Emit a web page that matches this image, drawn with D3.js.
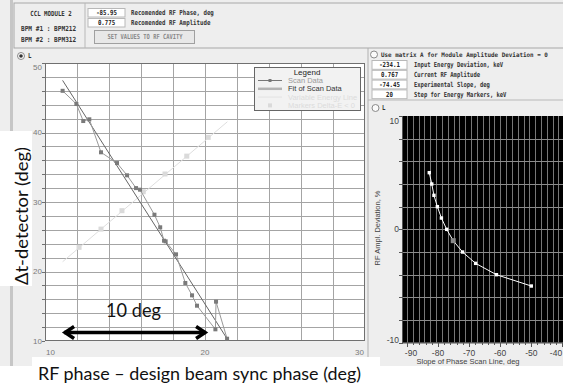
<!DOCTYPE html>
<html>
<head>
<meta charset="utf-8">
<script src="https://cdn.jsdelivr.net/npm/d3@7/dist/d3.min.js"></script>
<style>
body { margin: 0; background: #fff; }
svg { display: block; }
</style>
</head>
<body>
<div id="chart"></div>
<script>
// ---- data ----
// left plot: phase scan (RF phase vs dt at detector)
const scanX = [11.1, 11.96, 12.39, 12.77, 13.5, 14.5, 15.13, 15.69, 15.94, 16.84,
               17.2, 17.44, 17.54, 18.19, 18.77, 19.19, 19.5, 20.65, 20.69, 21.38];
const scanY = [46.0, 44.1, 41.65, 41.9, 37.15, 35.6, 33.84, 32.0, 31.77, 28.17,
               26.36, 24.43, 24.34, 22.47, 18.35, 16.57, 15.08, 11.68, 15.66, 10.33];
const fitX = [11.1, 21.36];
const fitY = [47.5, 10.4];
const energyLineX = [11.1, 21.4];
const energyLineY = [21.4, 41.55];
const markerX = [12.13, 13.5, 14.81, 16.14, 17.5, 18.86, 20.2];
const markerY = [23.48, 26.1, 28.75, 31.48, 34.03, 36.6, 39.3];
const leftXTicks = [10, 20, 30];
const leftYTicks = [10, 20, 30, 40, 50];
const legendItems = ['Scan Data', 'Fit of Scan Data', 'Variable Energy Line', 'Markers Delta-E < 0'];

// right plot: amplitude deviation vs slope
const slopeX = [-82.8, -82.0, -81.3, -80.2, -78.9, -77.2, -75.1, -72.1, -67.9, -61.2, -50.0];
const amplDev = [5, 4, 3, 2, 1, 0, -1, -2, -3, -4, -5];
const currentIdx = 6;
const rightXTicks = [-90, -80, -70, -60, -50, -40];
const rightYTicks = [-10, 0, 10];

// panel fields
const headerRows = ['CCL MODULE 2', 'BPM #1 :  BPM212', 'BPM #2 :  BPM312'];
const recValues = ['-85.95', '0.775'];
const recLabels = ['Recomended RF Phase, deg', 'Recomended RF Amplitude'];
const inputValues = ['-234.1', '0.767', '-74.45', '20'];
const inputLabels = ['Input Energy Deviation, keV', 'Current RF Amplitude',
                     'Experimental Slope, deg', 'Step for Energy Markers, keV'];

const W = 563, H = 389;
const svg = d3.select('#chart').append('svg')
    .attr('width', W).attr('height', H)
    .style('font-family', '"Liberation Sans", Arial, sans-serif');

// small ui text in a squeezed mono font
function uiText(x, y, s, opts) {
    opts = opts || {};
    let cw = opts.cw || 3.45;
    return svg.append('text')
        .attr('x', x).attr('y', y)
        .attr('dy', '0.35em')
        .attr('text-anchor', opts.anchor || 'start')
        .attr('font-family', '"DejaVu Sans Mono", monospace')
        .attr('font-weight', 'bold')
        .attr('font-size', opts.size || 7)
        .attr('fill', opts.fill || '#333')
        .attr('textLength', s.length * cw)
        .attr('lengthAdjust', 'spacingAndGlyphs')
        .text(s);
}

function field(x, y, w, h, s) {
    svg.append('rect').attr('x', x).attr('y', y).attr('width', w).attr('height', h)
        .attr('fill', '#fff').attr('stroke', '#b8b8b8');
    uiText(x + w / 2, y + h / 2, s, {anchor: 'middle', fill: '#222'});
}

function radio(x, y, on) {
    svg.append('circle').attr('cx', x).attr('cy', y).attr('r', 3.5)
        .attr('fill', '#fafafa').attr('stroke', '#8a8a8a');
    if (on) {
        svg.append('circle').attr('cx', x).attr('cy', y).attr('r', 1.8).attr('fill', '#333');
    }
}

// ---- window background ----
svg.append('rect').attr('width', W).attr('height', 366).attr('fill', '#eeeeee');
svg.append('rect').attr('x', 10).attr('y', 0).attr('width', 3).attr('height', 366).attr('fill', '#c6c6c6');

// header
svg.append('rect').attr('x', 14).attr('y', 3).attr('width', 560).attr('height', 45)
    .attr('fill', '#eeeeee').attr('stroke', '#a8a8a8');
svg.append('line').attr('x1', 85).attr('x2', 85).attr('y1', 3).attr('y2', 48).attr('stroke', '#b8b8b8');
uiText(51, 14, headerRows[0], {anchor: 'middle'});
uiText(21, 28.3, headerRows[1]);
uiText(21, 40, headerRows[2]);
recValues.forEach((v, i) => {
    field(88, 8.5 + i * 10, 37, 8.5, v);
    uiText(131, 12.7 + i * 10, recLabels[i]);
});
svg.append('rect').attr('x', 94.5).attr('y', 30.5).attr('width', 100).attr('height', 13)
    .attr('fill', '#e8e8e8').attr('stroke', '#a0a0a0');
uiText(145, 37, 'SET VALUES TO RF CAVITY', {anchor: 'middle', fill: '#888', cw: 3.26});

// panel separators
svg.append('line').attr('x1', 368).attr('x2', 368).attr('y1', 48).attr('y2', 366).attr('stroke', '#b0b0b0');
svg.append('line').attr('x1', 368).attr('x2', W).attr('y1', 100).attr('y2', 100).attr('stroke', '#b8b8b8');

radio(21, 56, true);
uiText(28, 56, 'L');

// ---- left plot ----
const xL = d3.scaleLinear().domain([10, 30]).range([45, 365]);
const yL = d3.scaleLinear().domain([10, 50]).range([341, 63]);

svg.append('rect').attr('x', 45).attr('y', 63).attr('width', 320).attr('height', 278).attr('fill', '#fff');

let gridL = svg.append('g').attr('stroke', '#a4a4a4').attr('stroke-width', 1);
gridL.selectAll('.vx').data(d3.range(12, 30, 2)).join('line')
    .attr('x1', d => xL(d) + 0.5).attr('x2', d => xL(d) + 0.5)
    .attr('y1', yL(50)).attr('y2', yL(10));
gridL.selectAll('.hy').data(d3.range(12, 50, 2)).join('line')
    .attr('y1', d => Math.round(yL(d)) + 0.5).attr('y2', d => Math.round(yL(d)) + 0.5)
    .attr('x1', xL(10)).attr('x2', xL(30));

svg.append('rect').attr('x', 45.5).attr('y', 63.5).attr('width', 319).attr('height', 277)
    .attr('fill', 'none').attr('stroke', '#707070');

// left axis ticks
svg.append('g').selectAll('line').data(d3.range(10, 51, 2)).join('line')
    .attr('x1', 42).attr('x2', 45)
    .attr('y1', d => Math.round(yL(d)) + 0.5).attr('y2', d => Math.round(yL(d)) + 0.5)
    .attr('stroke', '#707070');
svg.append('g').selectAll('text').data(leftYTicks).join('text')
    .attr('x', 42).attr('y', d => d === 50 ? yL(d) + 4 : yL(d))
    .attr('dy', '0.35em').attr('text-anchor', 'end')
    .attr('font-size', 8).attr('fill', '#7a7a7a')
    .text(d => d);
svg.append('g').selectAll('text').data(leftXTicks).join('text')
    .attr('x', (d, i) => i === 0 ? xL(d) + 1 : (i === leftXTicks.length - 1 ? xL(d) - 1 : xL(d)))
    .attr('y', 352).attr('dy', '0.35em')
    .attr('text-anchor', (d, i) => i === 0 ? 'start' : (i === leftXTicks.length - 1 ? 'end' : 'middle'))
    .attr('font-size', 8).attr('fill', '#7a7a7a')
    .text(d => d);

// variable energy line + markers
svg.append('path')
    .datum(d3.zip(energyLineX, energyLineY))
    .attr('d', d3.line().x(d => xL(d[0])).y(d => yL(d[1])))
    .attr('fill', 'none').attr('stroke', '#dedede').attr('stroke-width', 1);
svg.append('g').selectAll('rect').data(d3.zip(markerX, markerY)).join('rect')
    .attr('x', d => xL(d[0]) - 2.5).attr('y', d => yL(d[1]) - 2.5)
    .attr('width', 5).attr('height', 5).attr('fill', '#dadada');

// fit line
svg.append('path')
    .datum(d3.zip(fitX, fitY))
    .attr('d', d3.line().x(d => xL(d[0])).y(d => yL(d[1])))
    .attr('fill', 'none').attr('stroke', '#666').attr('stroke-width', 1);

// scan data
svg.append('path')
    .datum(d3.zip(scanX, scanY))
    .attr('d', d3.line().x(d => xL(d[0])).y(d => yL(d[1])))
    .attr('fill', 'none').attr('stroke', '#999').attr('stroke-width', 1);
svg.append('g').selectAll('rect').data(d3.zip(scanX, scanY)).join('rect')
    .attr('x', d => xL(d[0]) - 2).attr('y', d => yL(d[1]) - 2)
    .attr('width', 4).attr('height', 4).attr('fill', '#7a7a7a');

// legend
let lg = svg.append('g').attr('transform', 'translate(254,67)');
lg.append('rect').attr('x', 0.5).attr('y', 0.5).attr('width', 106).attr('height', 43)
    .attr('fill', '#f2f2f2').attr('stroke', '#666');
lg.append('text').attr('x', 53).attr('y', 5.5).attr('dy', '0.35em').attr('text-anchor', 'middle')
    .attr('font-size', 8).attr('fill', '#222').text('Legend');
const legendText = ['#9a9a9a', '#333', '#dcdcdc', '#dcdcdc'];
lg.selectAll('.lt').data(legendItems).join('text')
    .attr('x', 34).attr('y', (d, i) => 13.5 + i * 8.3).attr('dy', '0.35em')
    .attr('font-size', 7.5).attr('fill', (d, i) => legendText[i]).text(d => d);
lg.append('line').attr('x1', 4).attr('x2', 28).attr('y1', 13.5).attr('y2', 13.5).attr('stroke', '#777');
lg.append('rect').attr('x', 14.5).attr('y', 12).attr('width', 3).attr('height', 3).attr('fill', '#777');
lg.append('line').attr('x1', 4).attr('x2', 28).attr('y1', 21.8).attr('y2', 21.8)
    .attr('stroke', '#b4b4b4').attr('stroke-width', 2.5);
lg.append('line').attr('x1', 4).attr('x2', 28).attr('y1', 30.1).attr('y2', 30.1).attr('stroke', '#e2e2e2');
lg.append('rect').attr('x', 14).attr('y', 36.4).attr('width', 4).attr('height', 4).attr('fill', '#dadada');

// ---- right panel ----
radio(374, 54.5, false);
uiText(381, 54.5, 'Use matrix A for Module Amplitude Deviation = 0', {cw: 3.55, size: 6.2});
inputValues.forEach((v, i) => {
    field(372, 60.5 + i * 9.8, 35, 8.8, v);
    uiText(414, 65 + i * 9.8, inputLabels[i], {cw: 3.3});
});
radio(375.5, 108, false);
uiText(382, 108, 'L');

const xR = d3.scaleLinear().domain([-91.25, -39.8]).range([403, 563]);
const yR = d3.scaleLinear().domain([-10, 10]).range([342.7, 116]);

svg.append('rect').attr('x', 403).attr('y', 116).attr('width', W - 403).attr('height', 226.7).attr('fill', '#000');
let gridR = svg.append('g').attr('stroke', '#8c8c8c').attr('stroke-width', 1);
gridR.selectAll('.vx').data(d3.range(-90, -39, 1.875)).join('line')
    .attr('x1', d => Math.round(xR(d)) + 0.5).attr('x2', d => Math.round(xR(d)) + 0.5)
    .attr('y1', 116).attr('y2', 342.7).attr('stroke-opacity', 0.85);
gridR.selectAll('.hy').data(d3.range(-8, 10, 2)).join('line')
    .attr('y1', d => Math.round(yR(d)) + 0.5).attr('y2', d => Math.round(yR(d)) + 0.5)
    .attr('x1', 403).attr('x2', W);

// axes
svg.append('line').attr('x1', 402.5).attr('x2', 402.5).attr('y1', 116).attr('y2', 343).attr('stroke', '#555');
svg.append('line').attr('x1', 403).attr('x2', W).attr('y1', 343).attr('y2', 343).attr('stroke', '#555');
svg.append('g').selectAll('line').data(d3.range(-10, 11, 2)).join('line')
    .attr('x1', 399).attr('x2', 403)
    .attr('y1', d => Math.round(yR(d)) + 0.5).attr('y2', d => Math.round(yR(d)) + 0.5)
    .attr('stroke', '#555');
svg.append('g').selectAll('line').data(d3.range(-90, -39, 2)).join('line')
    .attr('x1', d => Math.round(xR(d)) + 0.5).attr('x2', d => Math.round(xR(d)) + 0.5)
    .attr('y1', 343).attr('y2', d => d % 10 === 0 ? 347 : 345)
    .attr('stroke', '#555');
svg.append('g').selectAll('text').data(rightYTicks).join('text')
    .attr('x', 399).attr('y', d => d === 10 ? yR(d) + 5 : (d === -10 ? yR(d) - 3 : yR(d)))
    .attr('dy', '0.35em').attr('text-anchor', 'end')
    .attr('font-size', 8.5).attr('fill', '#444').text(d => d);
svg.append('g').selectAll('text').data(rightXTicks).join('text')
    .attr('x', d => Math.min(Math.max(xR(d), 411), 556))
    .attr('y', 353.5).attr('dy', '0.35em').attr('text-anchor', 'middle')
    .attr('font-size', 8.5).attr('fill', '#444').text(d => d);

svg.append('text').attr('transform', 'translate(377,228) rotate(-90)')
    .attr('dy', '0.35em').attr('text-anchor', 'middle')
    .attr('font-size', 7.5).attr('fill', '#444').text('RF Ampl. Deviation, %');
svg.append('text').attr('x', 468).attr('y', 361.5).attr('dy', '0.35em').attr('text-anchor', 'middle')
    .attr('font-size', 7.5).attr('fill', '#444').text('Slope of Phase Scan Line, deg');

// curve
svg.append('path')
    .datum(d3.zip(slopeX, amplDev))
    .attr('d', d3.line().x(d => xR(d[0])).y(d => yR(d[1])))
    .attr('fill', 'none').attr('stroke', '#fff').attr('stroke-width', 1);
svg.append('g').selectAll('rect').data(d3.zip(slopeX, amplDev)).join('rect')
    .attr('x', (d, i) => xR(d[0]) - (i === currentIdx ? 2.5 : 1.7))
    .attr('y', (d, i) => yR(d[1]) - (i === currentIdx ? 2.5 : 1.7))
    .attr('width', (d, i) => i === currentIdx ? 5 : 3.4)
    .attr('height', (d, i) => i === currentIdx ? 5 : 3.4)
    .attr('fill', (d, i) => i === currentIdx ? '#8a8a8a' : '#fff');

// ---- slide overlays ----
svg.append('rect').attr('x', 0).attr('y', 131).attr('width', 32).attr('height', 155).attr('fill', '#fff');
svg.append('text').attr('transform', 'translate(28,216) rotate(-90)')
    .attr('text-anchor', 'middle').attr('font-family', 'Lato, "Open Sans", sans-serif')
    .attr('font-size', 18).attr('fill', '#111')
    .attr('textLength', 138).attr('lengthAdjust', 'spacingAndGlyphs')
    .text('\u0394t-detector (deg)');

svg.append('rect').attr('x', 32).attr('y', 357).attr('width', 348).attr('height', 32).attr('fill', '#fff');
svg.append('text').attr('x', 38).attr('y', 380)
    .attr('font-family', 'Lato, "Open Sans", sans-serif')
    .attr('font-size', 17).attr('fill', '#111')
    .attr('textLength', 323).attr('lengthAdjust', 'spacingAndGlyphs')
    .text('RF phase \u2013 design beam sync phase (deg)');

svg.append('text').attr('x', 106).attr('y', 317)
    .attr('font-family', 'Lato, "Open Sans", sans-serif')
    .attr('font-size', 19).attr('fill', '#111')
    .attr('textLength', 55).attr('lengthAdjust', 'spacingAndGlyphs')
    .text('10 deg');

// double arrow
const arrowX = [11.13, 20.13];
const ay = 332.5;
let ax0 = xL(arrowX[0]), ax1 = xL(arrowX[1]);
let arrow = svg.append('g').attr('stroke', '#000').attr('stroke-width', 3.5)
    .attr('fill', 'none').attr('stroke-linecap', 'butt').attr('stroke-linejoin', 'miter');
arrow.append('line').attr('x1', ax0 + 1).attr('x2', ax1 - 1).attr('y1', ay).attr('y2', ay);
arrow.append('path').attr('d', `M${ax0 + 11},${ay - 6} L${ax0 + 2},${ay} L${ax0 + 11},${ay + 6}`);
arrow.append('path').attr('d', `M${ax1 - 11},${ay - 6} L${ax1 - 2},${ay} L${ax1 - 11},${ay + 6}`);
</script>
</body>
</html>
